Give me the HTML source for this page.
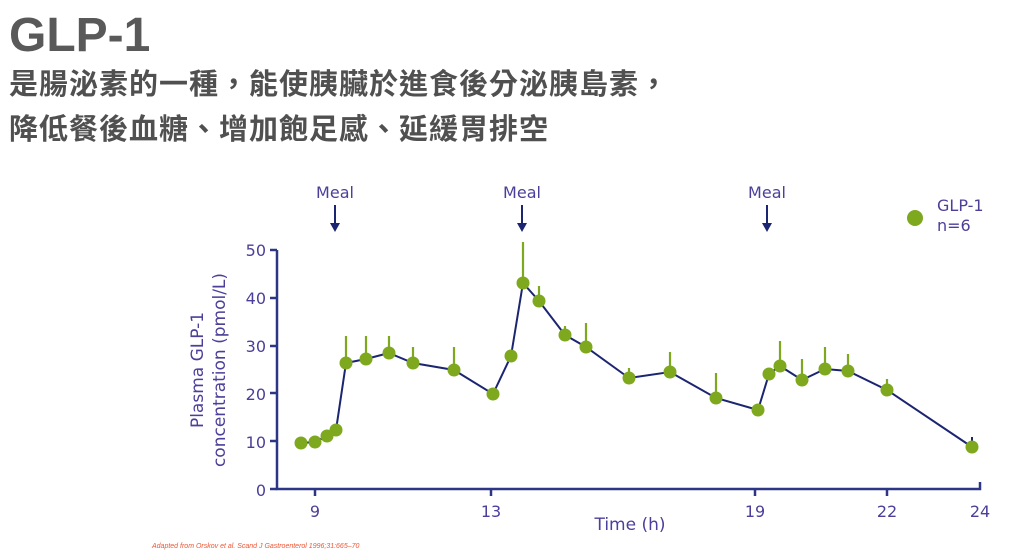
<!DOCTYPE html>
<html><head><meta charset="utf-8"><style>
body{margin:0;width:1024px;height:553px;background:#fff;overflow:hidden;position:relative;font-family:"Liberation Sans","Noto Sans CJK TC",sans-serif}
.t{position:absolute;left:9px;top:12px;font-size:48px;font-weight:bold;color:#595959;line-height:1}
.c{position:absolute;left:9px;font-size:29px;letter-spacing:1px;font-weight:bold;color:#505050;line-height:1;white-space:nowrap;font-family:"Liberation Sans","Noto Sans CJK TC",sans-serif}
</style></head><body>
<div class="t">GLP-1</div>
<div class="c" style="top:71px">是腸泌素的一種，能使胰臟於進食後分泌胰島素，</div>
<div class="c" style="top:116px">降低餐後血糖、增加飽足感、延緩胃排空</div>
<svg width="1024" height="553" style="position:absolute;left:0;top:0" font-family="'DejaVu Sans',sans-serif">
<g fill="#4b3f9a" font-size="16">
<text x="335" y="198" text-anchor="middle">Meal</text>
<text x="522" y="198" text-anchor="middle">Meal</text>
<text x="767" y="198" text-anchor="middle">Meal</text>
<text x="937" y="211">GLP-1</text>
<text x="937" y="231">n=6</text>
<text x="266" y="256" text-anchor="end">50</text>
<text x="266" y="304" text-anchor="end">40</text>
<text x="266" y="352" text-anchor="end">30</text>
<text x="266" y="400" text-anchor="end">20</text>
<text x="266" y="448" text-anchor="end">10</text>
<text x="266" y="496" text-anchor="end">0</text>
<text x="315" y="517" text-anchor="middle">9</text>
<text x="491" y="517" text-anchor="middle">13</text>
<text x="755" y="517" text-anchor="middle">19</text>
<text x="887" y="517" text-anchor="middle">22</text>
<text x="980" y="517" text-anchor="middle">24</text>
<text x="630" y="530" text-anchor="middle" font-size="17">Time (h)</text>
<text transform="translate(203,370) rotate(-90)" text-anchor="middle" font-size="17">Plasma GLP-1</text>
<text transform="translate(225,370) rotate(-90)" text-anchor="middle" font-size="17">concentration (pmol/L)</text>
</g>
<g stroke="#1b2570" stroke-width="2" fill="#1b2570">
<line x1="335" y1="205" x2="335" y2="226"/><path d="M330,223 L340,223 L335,232Z" stroke="none"/>
<line x1="522" y1="205" x2="522" y2="226"/><path d="M517,223 L527,223 L522,232Z" stroke="none"/>
<line x1="767" y1="205" x2="767" y2="226"/><path d="M762,223 L772,223 L767,232Z" stroke="none"/>
</g>
<g stroke="#2d3585" stroke-width="2.5" fill="none">
<polyline points="277,250 277,489 980,489 980,482"/>
<line x1="270" y1="250" x2="277" y2="250"/><line x1="270" y1="298" x2="277" y2="298"/><line x1="270" y1="346" x2="277" y2="346"/><line x1="270" y1="393" x2="277" y2="393"/><line x1="270" y1="441" x2="277" y2="441"/><line x1="270" y1="489" x2="277" y2="489"/>
<line x1="315" y1="489" x2="315" y2="496"/><line x1="491" y1="489" x2="491" y2="496"/><line x1="755" y1="489" x2="755" y2="496"/><line x1="887" y1="489" x2="887" y2="496"/>
</g>
<g stroke="#7ea81e" stroke-width="2.2">
<line x1="346" y1="363" x2="346" y2="336"/><line x1="366" y1="359" x2="366" y2="336"/><line x1="389" y1="353" x2="389" y2="336"/><line x1="413" y1="363" x2="413" y2="347"/><line x1="454" y1="370" x2="454" y2="347"/><line x1="523" y1="283" x2="523" y2="242"/><line x1="539" y1="301" x2="539" y2="286"/><line x1="565" y1="335" x2="565" y2="326"/><line x1="586" y1="347" x2="586" y2="323"/><line x1="629" y1="378" x2="629" y2="368"/><line x1="670" y1="372" x2="670" y2="352"/><line x1="716" y1="398" x2="716" y2="373"/><line x1="780" y1="366" x2="780" y2="341"/><line x1="802" y1="380" x2="802" y2="359"/><line x1="825" y1="369" x2="825" y2="347"/><line x1="848" y1="371" x2="848" y2="354"/><line x1="887" y1="390" x2="887" y2="379"/>
</g>
<line x1="972" y1="447" x2="972" y2="437" stroke="#1b2570" stroke-width="2"/>
<polyline fill="none" stroke="#1b2570" stroke-width="2" points="301,443 315,442 327,436 336,430 346,363 366,359 389,353 413,363 454,370 493,394 511,356 523,283 539,301 565,335 586,347 629,378 670,372 716,398 758,410 769,374 780,366 802,380 825,369 848,371 887,390 972,447"/>
<g fill="#7ea81e">
<circle cx="301" cy="443" r="6.5"/><circle cx="315" cy="442" r="6.5"/><circle cx="327" cy="436" r="6.5"/><circle cx="336" cy="430" r="6.5"/><circle cx="346" cy="363" r="6.5"/><circle cx="366" cy="359" r="6.5"/><circle cx="389" cy="353" r="6.5"/><circle cx="413" cy="363" r="6.5"/><circle cx="454" cy="370" r="6.5"/><circle cx="493" cy="394" r="6.5"/><circle cx="511" cy="356" r="6.5"/><circle cx="523" cy="283" r="6.5"/><circle cx="539" cy="301" r="6.5"/><circle cx="565" cy="335" r="6.5"/><circle cx="586" cy="347" r="6.5"/><circle cx="629" cy="378" r="6.5"/><circle cx="670" cy="372" r="6.5"/><circle cx="716" cy="398" r="6.5"/><circle cx="758" cy="410" r="6.5"/><circle cx="769" cy="374" r="6.5"/><circle cx="780" cy="366" r="6.5"/><circle cx="802" cy="380" r="6.5"/><circle cx="825" cy="369" r="6.5"/><circle cx="848" cy="371" r="6.5"/><circle cx="887" cy="390" r="6.5"/><circle cx="972" cy="447" r="6.5"/>
<circle cx="915" cy="218" r="8"/>
</g>
<text x="152" y="548" font-size="7" fill="#e53" font-style="italic" font-family="'Liberation Sans',sans-serif">Adapted from  Orskov et al.  Scand J Gastroenterol 1996;31:665–70</text>
</svg>
</body></html>
